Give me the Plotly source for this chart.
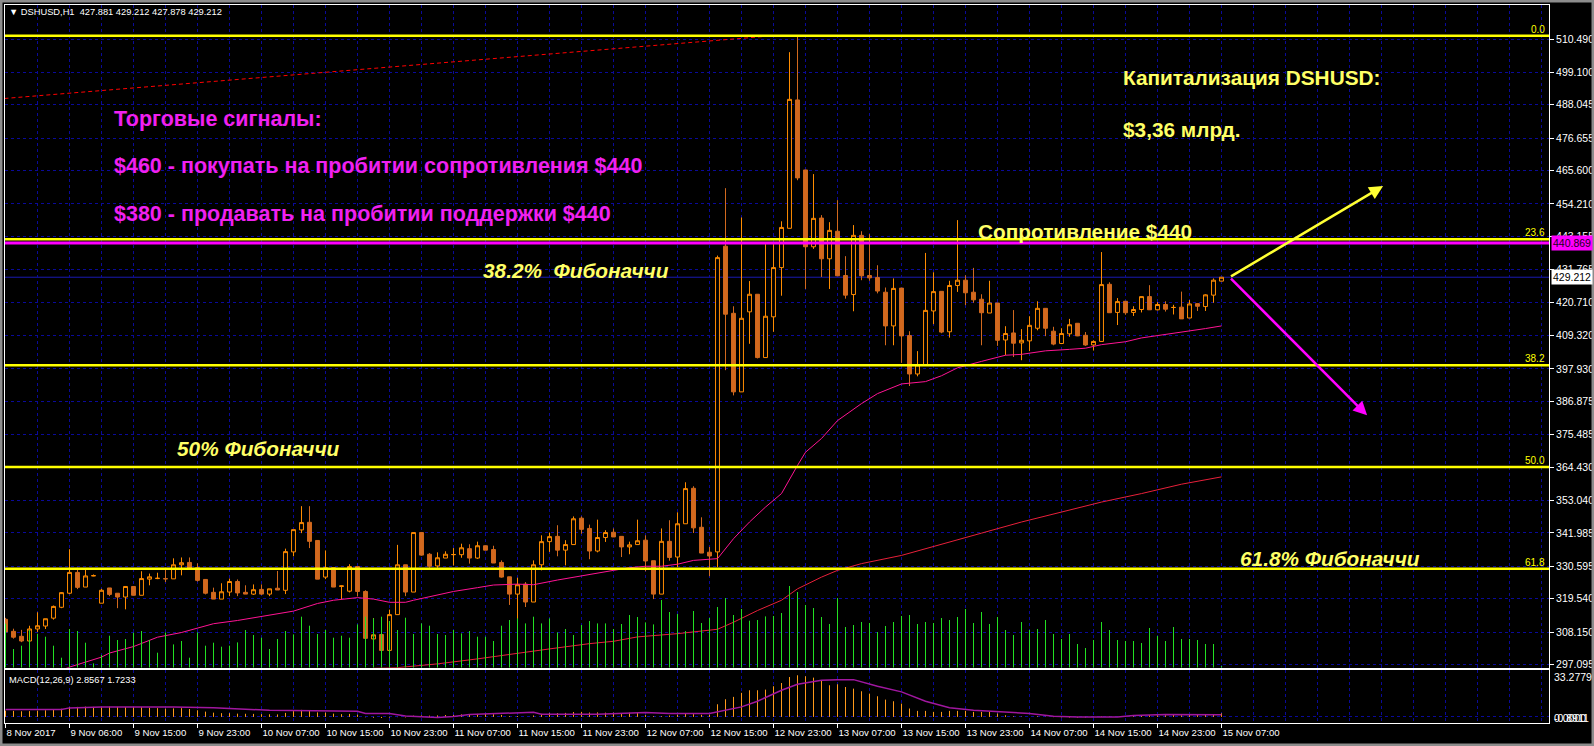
import plotly.graph_objects as go

# ---------------- DATA ----------------
opens = [312.5, 308.4, 306.7, 305.1, 309.2, 310.2, 312.9, 316.6, 321.4, 328.5,
         323.5, 327.3, 318.0, 323.2, 321.4, 320.1, 323.7, 320.7, 326.2, 326.4,
         326.4, 326.3, 331.1, 331.9, 330.1, 326.1, 321.7, 319.4, 321.8, 325.4,
         321.7, 321.1, 322.7, 321.1, 323.1, 322.4, 335.5, 343.0, 345.6, 339.4,
         326.9, 330.1, 323.7, 322.1, 330.5, 322.0, 305.8, 307.3, 301.9, 314.1,
         331.1, 321.8, 342.1, 334.7, 330.7, 333.4, 334.55, 334.55, 336.6, 333.4,
         337.6, 336.3, 331.9, 327.0, 321.1, 324.5, 318.4, 331.1, 339.0, 340.8,
         336.1, 338.0, 347.0, 343.5, 335.8, 340.4, 342.2, 340.8, 337.2, 338.0,
         339.5, 332.5, 321.1, 339.1, 333.75, 345.1, 357.2, 343.9, 335.4, 335.5,
         439.8, 416.9, 390.1, 417.4, 423.4, 401.8, 415.7, 432.5, 445.9, 489.7,
         465.8, 439.6, 449.4, 435.5, 444.9, 429.8, 423.3, 443.5, 429.8, 429.1,
         424.1, 412.6, 425.5, 409.3, 396.2, 399.3, 417.7, 424.4, 410.6, 426.4,
         428.2, 424.1, 421.7, 417.0, 420.4, 407.8, 410.2, 406.8, 407.5, 411.8,
         418.6, 410.8, 406.6, 409.9, 413.5, 409.4, 406.1, 407.3, 426.8, 417.2,
         421.0, 417.2, 418.2, 422.6, 418.1, 419.9, 418.9, 419.0, 415.3, 420.2,
         419.2, 423.1, 427.881]
highs = [313.0, 309.3, 308.9, 310.3, 314.9, 312.7, 317.2, 321.8, 336.4, 330.1,
         329.4, 327.8, 322.9, 323.2, 321.4, 323.7, 323.7, 328.9, 328.1, 328.4,
         330.1, 333.3, 333.6, 333.6, 331.6, 326.1, 323.3, 324.8, 326.4, 326.1,
         324.1, 324.4, 324.4, 322.9, 329.0, 336.6, 343.1, 351.1, 351.1, 339.4,
         336.0, 330.1, 324.0, 331.3, 330.5, 322.4, 312.9, 307.3, 315.8, 337.9,
         331.1, 342.1, 342.3, 335.1, 335.35, 335.7, 336.8, 338.3, 338.1, 339.0,
         337.6, 337.6, 332.6, 327.0, 326.7, 325.2, 332.6, 341.15, 342.1, 344.6,
         339.5, 347.6, 347.6, 344.8, 346.5, 342.9, 343.5, 340.8, 339.0, 346.5,
         341.15, 332.5, 343.5, 346.3, 349.0, 359.25, 357.9, 347.3, 337.2, 436.6,
         459.6, 419.3, 449.6, 427.9, 423.4, 440.5, 440.5, 448.3, 506.0, 511.3,
         465.8, 464.4, 450.4, 448.0, 455.5, 436.4, 447.0, 444.9, 443.9, 433.3,
         425.7, 428.8, 425.5, 410.8, 404.0, 437.5, 430.9, 424.4, 428.0, 448.7,
         429.9, 432.4, 423.4, 428.0, 420.4, 412.5, 418.0, 411.5, 415.9, 421.0,
         418.6, 412.3, 411.8, 415.0, 413.5, 410.5, 407.7, 437.8, 427.5, 422.1,
         421.0, 419.3, 422.6, 426.5, 420.7, 421.0, 419.8, 424.3, 421.4, 420.2,
         423.4, 428.8, 429.212]
lows = [307.8, 305.9, 304.7, 305.1, 308.2, 309.2, 312.4, 316.3, 321.1, 322.8,
        323.5, 327.2, 318.0, 320.4, 316.3, 315.9, 320.7, 320.7, 324.1, 326.2,
        325.2, 326.3, 327.5, 329.9, 325.4, 321.0, 319.4, 319.4, 320.4, 320.4,
        321.1, 320.8, 320.8, 320.4, 322.5, 321.1, 334.0, 341.9, 336.8, 326.2,
        326.2, 323.5, 319.3, 321.7, 320.3, 306.0, 305.8, 301.9, 301.9, 314.1,
        320.4, 321.8, 334.2, 330.1, 330.1, 333.4, 330.9, 333.5, 331.5, 333.1,
        336.1, 331.7, 326.7, 317.4, 312.3, 316.7, 318.4, 329.2, 335.5, 334.0,
        330.9, 338.0, 341.7, 333.0, 335.35, 338.9, 340.6, 333.75, 334.7, 338.0,
        328.9, 319.4, 321.1, 332.5, 330.3, 345.1, 341.95, 335.1, 327.2, 330.3,
        397.5, 388.9, 390.1, 406.5, 401.5, 401.8, 410.6, 422.9, 445.9, 462.3,
        425.2, 438.9, 429.3, 425.2, 429.7, 421.9, 417.6, 428.2, 428.0, 423.7,
        406.0, 406.0, 400.0, 392.1, 395.4, 399.3, 413.2, 410.1, 408.6, 424.2,
        419.7, 420.5, 406.0, 417.0, 405.8, 402.6, 402.0, 400.9, 404.0, 411.1,
        409.1, 406.0, 406.4, 408.9, 409.1, 405.8, 404.2, 407.3, 417.1, 412.9,
        416.4, 416.0, 417.2, 418.1, 417.9, 417.5, 416.5, 415.0, 415.3, 417.7,
        417.7, 420.5, 427.878]
closes = [308.2, 306.4, 305.1, 309.2, 310.3, 312.7, 316.9, 321.6, 328.5, 323.4,
          327.3, 327.4, 322.4, 321.0, 320.1, 323.7, 320.7, 326.4, 327.0, 326.5,
          326.3, 331.1, 331.8, 329.9, 325.8, 321.4, 319.4, 321.9, 325.4, 321.5,
          321.1, 322.6, 321.1, 322.9, 322.5, 335.6, 343.1, 345.5, 339.1, 326.2,
          330.1, 323.5, 323.9, 330.5, 322.0, 306.0, 307.2, 301.9, 314.1, 331.1,
          321.8, 342.1, 334.4, 330.6, 333.5, 334.7, 334.6, 336.9, 333.4, 337.6,
          336.1, 331.7, 326.9, 321.1, 324.3, 318.4, 331.1, 339.0, 340.7, 336.1,
          338.0, 346.8, 343.2, 335.8, 340.4, 342.1, 340.6, 337.2, 337.9, 339.3,
          332.4, 321.1, 339.1, 333.6, 345.1, 357.1, 343.7, 335.1, 334.1, 435.9,
          416.6, 390.1, 415.2, 423.4, 401.8, 415.9, 432.5, 446.2, 489.9, 463.1,
          439.6, 449.3, 435.5, 445.2, 429.7, 423.1, 443.5, 429.7, 429.0, 424.5,
          412.6, 425.4, 409.2, 396.2, 399.3, 417.9, 424.3, 410.5, 426.4, 428.2,
          423.9, 421.5, 417.1, 420.4, 407.7, 410.0, 406.7, 407.7, 412.8, 418.6,
          411.8, 406.4, 410.0, 413.0, 409.2, 406.1, 407.3, 426.7, 417.1, 420.9,
          417.1, 418.2, 422.6, 418.1, 419.9, 418.3, 418.9, 415.0, 420.1, 419.3,
          423.2, 428.2, 429.212]
bars = list(range(len(opens)))

# tick volume (read as relative bar heights)
volume = [44, 18.7, 22, 37.7, 34, 31, 22, 10, 38.7, 36.7,
          25, 4.3, 12.7, 32, 27.7, 28.7, 35, 36.7, 27.7, 15,
          35.3, 23.3, 26.7, 10, 35.3, 22, 25, 21, 22, 25.3,
          37.7, 32.7, 30, 18.7, 28.7, 36.7, 33.3, 51, 42, 33.7,
          37.7, 30, 32, 30, 43.3, 51, 49.3, 51, 46.7, 37.7,
          50, 33.7, 44.3, 42, 33.7, 32.7, 37.7, 34.3, 36.7, 31,
          31, 26.7, 42, 47.7, 49.3, 44.3, 51, 44.3, 49.3, 35.3,
          38.7, 32.7, 42.7, 46.7, 44.3, 44.3, 38.7, 43.7, 52.7, 50.7,
          45.3, 43.3, 67.7, 55.7, 53.7, 36.7, 56.7, 44.7, 49.7, 60.7,
          69.7, 52.7, 58.7, 47, 47.7, 51.3, 51.7, 54.7, 81.7, 75.7,
          62.7, 59.7, 50.7, 43.7, 69.7, 40.7, 42.7, 45.7, 44.7, 35.7,
          41.7, 45.7, 51.7, 52.7, 43.7, 45.7, 44.7, 49.7, 47.7, 50.7,
          58.7, 44.7, 55.7, 43.7, 50.7, 37.7, 32.7, 45.7, 37.7, 38.7,
          47.7, 33.7, 28.7, 33.7, 23.7, 19.7, 27.7, 45.7, 37.7, 27.7,
          26.7, 26.7, 24.7, 39.7, 31.7, 26.7, 40.7, 28.7, 28.7, 27.7,
          23.7, 23.7, 1.7]

# moving averages (bar index, value)
ma_fast_k = [7, 8, 12, 13, 16, 19, 22, 26, 29, 32, 36, 39, 41, 44, 46, 48, 50, 51, 54, 56,
             59, 61, 64, 66, 69, 71, 74, 76, 78, 80, 82, 84, 86, 88, 89, 91, 93, 95, 97, 99,
             100, 102, 104, 107, 109, 112, 115, 117, 119, 122, 125, 127, 130, 133, 135, 137,
             140, 142, 145, 147, 150, 152]
ma_fast_v = [295.2, 296.2, 299.6, 301.0, 303.2, 306.4, 308.0, 311.0, 312.1, 313.5, 315.3, 317.9,
             319.0, 319.9, 319.4, 318.3, 318.3, 319.0, 320.7, 322.0, 323.3, 324.2, 324.5, 324.3,
             325.9, 326.9, 328.3, 329.2, 330.1, 330.6, 330.6, 331.3, 332.6, 333.1, 333.2, 340.0,
             345.7, 350.8, 355.4, 365.0, 369.5, 374.2, 380.3, 386.1, 389.5, 392.8, 393.6, 395.6,
             398.3, 400.5, 402.6, 402.9, 404.1, 404.6, 405.0, 406.2, 407.2, 408.5, 409.7, 410.3,
             411.7, 412.6]
ma_slow_k = [45, 46, 49, 54, 59, 64, 68, 73, 76, 79, 84, 89, 91, 94, 97, 99, 102, 104, 107,
             112, 117, 122, 127, 132, 137, 142, 147, 152]
ma_slow_v = [295.0, 295.8, 296.0, 297.3, 299.0, 301.0, 302.4, 304.2, 305.0, 306.5, 307.6, 309.1,
             311.5, 315.5, 319.0, 322.9, 326.9, 329.2, 331.5, 334.3, 338.2, 341.9, 345.7, 349.1,
             352.5, 355.4, 358.6, 361.1]

# MACD(12,26,9): main values (histogram) and signal line
macd_main = [5.0, 4.8, 4.5, 4.6, 5.0, 5.3, 5.8, 6.5, 7.8, 8.0,
             8.2, 8.0, 7.7, 8.2, 8.0, 7.8, 7.8, 7.8, 7.3, 7.0,
             6.6, 6.8, 7.0, 6.3, 5.3, 4.2, 3.4, 3.0, 3.0, 2.6,
             2.5, 2.4, 2.2, 2.1, 2.0, 3.2, 4.6, 5.6, 5.3, 3.6,
             3.4, 2.6, 2.2, 2.4, 1.8, -0.3, -0.7, -0.8911, -0.6, -0.2,
             -0.4, 1.0, 1.2, 1.0, 1.2, 1.5, 1.6, 2.0, 1.8, 2.4,
             2.3, 2.1, 1.6, 0.6, 0.7, 0.1, 1.1, 2.4, 3.2, 3.1,
             3.2, 3.9, 4.0, 3.5, 3.6, 3.4, 3.4, 2.8, 3.4, 3.4,
             1.4, 0.6, 0.6, 1.1, 1.7, 2.8, 2.2, 1.7, 1.7, 10.1,
             14.1, 16.0, 19.2, 21.3, 21.3, 21.8, 24.5, 27.1, 31.9, 33.2779,
             32.5, 31.4, 29.3, 25.3, 26.1, 23.9, 22.6, 20.5, 18.6, 16.5,
             13.8, 12.5, 10.6, 6.7, 4.8, 4.8, 4.0, 4.0, 4.8, 4.8,
             4.8, 4.0, 4.0, 4.0, 2.7, 1.3, 0.5, 0.3, 0.1, 0.5,
             0.2, -0.2, -0.4, -0.5, -0.6, -0.5, -0.3, 0.4, 0.3, 0.1,
             0.2, 0.6, 1.2, 1.4, 1.3, 1.3, 1.5, 1.3, 1.5, 1.6,
             1.8, 2.3, 2.8567]
signal_k = [0, 7, 8, 12, 21, 26, 30, 33, 44, 45, 48, 50, 54, 56, 58, 66, 67, 74, 80, 83,
            88, 89, 92, 94, 97, 99, 102, 104, 106, 109, 112, 115, 118, 121, 124, 128, 131,
            134, 139, 141, 145, 152]
signal_v = [5.9, 5.9, 7.2, 8.0, 8.0, 7.4, 6.1, 5.3, 4.5, 2.7, 2.7, 0.8, -0.5, 0.3, 1.9, 3.7,
            2.1, 2.1, 3.5, 2.7, 2.7, 4.0, 8.0, 12.5, 21.3, 26.1, 29.3, 29.8, 29.8, 24.5, 20.0,
            12.5, 7.4, 5.3, 4.0, 2.7, 0.5, 0.0, 0.0, 1.1, 1.9, 1.7233]

# Fibonacci retracement anchors and levels
fib_high = 511.6
fib_low = 217.4
fib_ratios = [0.0, 0.236, 0.382, 0.5, 0.618]
fib_line_k = [-1, 96]
fib_line_p = [490.0, 511.6]

resistance = 440.869
bid = 429.212
buy_target = 460.3
sell_target = 382.1
arrow_from_k = 153
buy_arrow_k = 172.2
sell_arrow_k = 170.2

price_ticks = [510.490, 499.100, 488.045, 476.655, 465.600, 454.210, 443.155, 431.765,
               420.710, 409.320, 397.930, 386.875, 375.485, 364.430, 353.040, 341.985,
               330.595, 319.540, 308.150, 297.095]
time_label_k = list(range(0, 153, 8))
time_labels = ["8 Nov 2017", "9 Nov 06:00", "9 Nov 15:00", "9 Nov 23:00", "10 Nov 07:00",
               "10 Nov 15:00", "10 Nov 23:00", "11 Nov 07:00", "11 Nov 15:00", "11 Nov 23:00",
               "12 Nov 07:00", "12 Nov 15:00", "12 Nov 23:00", "13 Nov 07:00", "13 Nov 15:00",
               "13 Nov 23:00", "14 Nov 07:00", "14 Nov 15:00", "14 Nov 23:00", "15 Nov 07:00"]

# ---------------- LAYOUT CONSTANTS ----------------
W, H = 1594, 746
PL, PR = 5, 1549
MAIN_T, MAIN_B = 4.5, 667.7
MACD_T, MACD_B = 670, 723
X_RANGE = [-0.0625, 192.9375]
PRICE_RANGE = [295.99, 522.26]
VOL_RANGE = [0, MAIN_B - MAIN_T]
MACD_RANGE = [-4.88, 37.5]

GRID = "#0A0A9A"
FONT = "Liberation Sans"
YEL = "#FFFF66"
MAG = "#F020F0"

def px(x):
    return x / W

def py(y):
    return 1 - y / H

def segments(xs, ys):
    X, Y = [], []
    for x, y in zip(xs, ys):
        X += [x, x, None]
        Y += [0, y, None]
    return X, Y

fig = go.Figure()

fig.add_trace(go.Candlestick(
    x=bars, open=opens, high=highs, low=lows, close=closes,
    increasing=dict(line=dict(color="#FF8C00", width=1), fillcolor="#000000"),
    decreasing=dict(line=dict(color="#D2691E", width=1), fillcolor="#D2691E"),
    whiskerwidth=0, xaxis="x", yaxis="y", showlegend=False, hoverinfo="skip"))

fig.add_trace(go.Scatter(x=ma_fast_k, y=ma_fast_v, mode="lines",
                         line=dict(color="#FF1493", width=1), xaxis="x", yaxis="y",
                         showlegend=False, hoverinfo="skip"))
fig.add_trace(go.Scatter(x=ma_slow_k, y=ma_slow_v, mode="lines",
                         line=dict(color="#E8203A", width=1), xaxis="x", yaxis="y",
                         showlegend=False, hoverinfo="skip"))
fig.add_trace(go.Scatter(x=fib_line_k, y=fib_line_p, mode="lines",
                         line=dict(color="#FF0000", width=1, dash="4px,3px"), xaxis="x", yaxis="y",
                         showlegend=False, hoverinfo="skip"))

vx, vy = segments(bars, volume)
fig.add_trace(go.Scatter(x=vx, y=vy, mode="lines", line=dict(color="#22E022", width=1),
                         xaxis="x", yaxis="y3", showlegend=False, hoverinfo="skip"))

mx, my = segments(bars, macd_main)
fig.add_trace(go.Scatter(x=mx, y=my, mode="lines", line=dict(color="#FF9A1A", width=1),
                         xaxis="x2", yaxis="y2", showlegend=False, hoverinfo="skip"))
fig.add_trace(go.Scatter(x=signal_k, y=signal_v, mode="lines", line=dict(color="#A0179F", width=1.5),
                         xaxis="x2", yaxis="y2", showlegend=False, hoverinfo="skip"))

shapes = []
fib_levels = [fib_high - r * (fib_high - fib_low) for r in fib_ratios]
for lv in fib_levels:
    shapes.append(dict(type="line", xref="x domain", yref="y", x0=0, x1=1, y0=lv, y1=lv,
                       line=dict(color="#FFFF00", width=2.5), layer="above"))
shapes.append(dict(type="line", xref="x domain", yref="y", x0=0, x1=1, y0=resistance,
                   y1=resistance, line=dict(color="#FF00FF", width=3), layer="above"))
shapes.append(dict(type="line", xref="x domain", yref="y", x0=0, x1=1, y0=bid, y1=bid,
                   line=dict(color="#1A1AB0", width=1), layer="below"))
# window frame
shapes.append(dict(type="rect", xref="paper", yref="paper", x0=0, x1=1, y0=0, y1=1,
                   line=dict(color="#8C8C8C", width=5), layer="above"))

ann = []
ann.append(dict(xref="paper", yref="paper", x=px(7), y=py(12), xanchor="left", yanchor="middle",
                text="\u25BC DSHUSD,H1\u00a0\u00a0427.881 429.212 427.878 429.212", showarrow=False,
                font=dict(family=FONT, size=9.3, color="white")))
ann.append(dict(xref="paper", yref="paper", x=px(7), y=py(680), xanchor="left", yanchor="middle",
                text="MACD(12,26,9) 2.8567 1.7233", showarrow=False,
                font=dict(family=FONT, size=9.3, color="white")))
for r, lv in zip(fib_ratios, fib_levels):
    ann.append(dict(xref="paper", yref="y", x=px(PR - 2), y=lv, xanchor="right", yanchor="bottom",
                    yshift=-1, text=f"{r*100:.1f}", showarrow=False,
                    font=dict(family=FONT, size=10, color="#FFFF00")))
ann.append(dict(xref="paper", yref="y", x=px(PR + 2), y=resistance, xanchor="left", yanchor="middle",
                text=f"{resistance:.3f}", showarrow=False, bgcolor="#FF00FF", borderpad=1,
                font=dict(family=FONT, size=10.5, color="#200020")))
ann.append(dict(xref="paper", yref="y", x=px(PR + 2), y=bid, xanchor="left", yanchor="middle",
                text=f"{bid:.3f}", showarrow=False, bgcolor="#FFFFFF", borderpad=1,
                font=dict(family=FONT, size=10.5, color="#000000")))
macd_max = max(macd_main)
macd_min = min(macd_main)
ann.append(dict(xref="paper", yref="paper", x=px(PR + 3), y=py(677), xanchor="left", yanchor="middle",
                text=f"{macd_max:.4f}", showarrow=False, font=dict(family=FONT, size=10.5, color="white")))
for t in ["0.0000", f"{macd_min:.4f}"]:
    ann.append(dict(xref="paper", yref="paper", x=px(PR + 3), y=py(717.5), xanchor="left", yanchor="middle",
                    text=t, showarrow=False, font=dict(family=FONT, size=10.5, color="white")))

big = [
    ("<b>Торговые сигналы:</b>", 112, 119, MAG, 21.5),
    ("<b>$460 - покупать на пробитии сопротивления $440</b>", 112, 166, MAG, 21.5),
    ("<b>$380 - продавать на пробитии поддержки $440</b>", 112, 213.5, MAG, 21.5),
    ("<b>Капитализация DSHUSD:</b>", 1121, 78, YEL, 20.8),
    ("<b>$3,36 млрд.</b>", 1121, 129, YEL, 20.8),
    ("<b>Сопротивление $440</b>", 976, 231, YEL, 20.8),
    ("<b><i>38.2%\u00a0\u00a0Фибоначчи</i></b>", 481, 270, YEL, 20.8),
    ("<b><i>50% Фибоначчи</i></b>", 175, 449, YEL, 20.8),
    ("<b><i>61.8% Фибоначчи</i></b>", 1238, 558, YEL, 20.8),
]
for t, x, y, c, s in big:
    ann.append(dict(xref="paper", yref="paper", x=px(x), y=py(y), xanchor="left", yanchor="middle",
                    text=t, showarrow=False, font=dict(family=FONT, size=s, color=c)))

ann.append(dict(xref="x", yref="y", x=buy_arrow_k, y=buy_target, axref="x", ayref="y",
                ax=arrow_from_k, ay=bid, showarrow=True, arrowhead=2, arrowsize=1.1,
                arrowwidth=2.5, arrowcolor="#FFFF33", text=""))
ann.append(dict(xref="x", yref="y", x=sell_arrow_k, y=sell_target, axref="x", ayref="y",
                ax=arrow_from_k, ay=bid, showarrow=True, arrowhead=2, arrowsize=1.1,
                arrowwidth=2.5, arrowcolor="#FF00FF", text=""))

minor_grid = dict(tickmode="linear", tick0=0, dtick=4, showgrid=True, gridcolor=GRID,
                  griddash="3px,3px", gridwidth=1)
yaxis_font = dict(family=FONT, size=10.5, color="white")
xaxis_font = dict(family=FONT, size=9.6, color="white")

fig.update_layout(
    width=W, height=H, margin=dict(l=0, r=0, t=0, b=0),
    paper_bgcolor="#000000", plot_bgcolor="#000000", showlegend=False,
    xaxis=dict(domain=[px(PL), px(PR)], range=X_RANGE, anchor="y", showticklabels=False,
               tickvals=time_label_k, ticks="", showgrid=True, gridcolor=GRID, griddash="3px,3px",
               minor=minor_grid, showline=True, mirror=True, linecolor="white", linewidth=1,
               zeroline=False, rangeslider=dict(visible=False), fixedrange=True),
    xaxis2=dict(domain=[px(PL), px(PR)], range=X_RANGE, anchor="y2", tickvals=time_label_k,
                ticktext=time_labels, ticks="outside", ticklen=4, tickcolor="white", tickangle=0,
                ticklabelposition="outside right", tickfont=xaxis_font, showgrid=True,
                gridcolor=GRID, griddash="3px,3px", minor=minor_grid, showline=True, mirror=True,
                linecolor="white", linewidth=1, zeroline=False, automargin=False, fixedrange=True),
    yaxis=dict(domain=[py(MAIN_B), py(MAIN_T)], range=PRICE_RANGE, anchor="x", side="right",
               tickvals=price_ticks, ticktext=[f"{v:.3f}" for v in price_ticks], ticks="outside",
               ticklen=4, tickcolor="white", tickfont=yaxis_font, showgrid=True, gridcolor=GRID,
               griddash="3px,3px", showline=True, mirror=True, linecolor="white", linewidth=1,
               zeroline=False, automargin=False, fixedrange=True),
    yaxis3=dict(overlaying="y", range=VOL_RANGE, visible=False, fixedrange=True),
    yaxis2=dict(domain=[py(MACD_B), py(MACD_T)], range=MACD_RANGE, anchor="x2", side="right",
                tickvals=[0], showticklabels=False, ticks="", showgrid=True, gridcolor=GRID,
                griddash="3px,3px", showline=True, mirror=True, linecolor="white", linewidth=1,
                zeroline=False, automargin=False, fixedrange=True),
    shapes=shapes, annotations=ann,
)

fig.write_html("out.html", config={"displayModeBar": False},
               post_script="document.body.style.margin='0';document.body.style.overflow='hidden';")
